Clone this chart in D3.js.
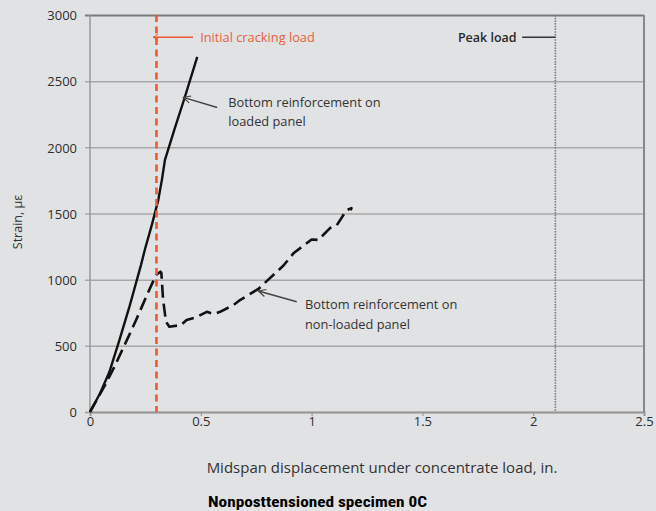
<!DOCTYPE html>
<html>
<head>
<meta charset="utf-8">
<script src="https://cdn.jsdelivr.net/npm/d3@7"></script>
<style>
  body { margin: 0; background: #e1e2e4; }
  svg { display: block; }
  .tick text { font-family: "Open Sans", sans-serif; font-size: 13px; fill: #2e2e2e; }
</style>
</head>
<body>
<div class="one"></div>
<script>
// x ticks / y ticks
let xTicks = [0, 0.5, 1, 1.5, 2, 2.5];
let yTicks = [0, 500, 1000, 1500, 2000, 2500, 3000];

// bottom reinforcement on loaded panel (solid)
let loadedX = [0, 0.045, 0.087, 0.132, 0.177, 0.23, 0.248, 0.28, 0.308, 0.325, 0.338, 0.38, 0.426, 0.484];
let loadedY = [0, 140, 300, 540, 790, 1110, 1230, 1420, 1601, 1760, 1903, 2130, 2369, 2684];

// bottom reinforcement on non-loaded panel (dashed)
let nonLoadedX = [0, 0.072, 0.11, 0.17, 0.208, 0.26, 0.298, 0.318, 0.322, 0.33, 0.343, 0.358, 0.41, 0.436, 0.48, 0.527, 0.556, 0.587, 0.647, 0.677, 0.76, 0.872, 0.918, 1.0, 1.03, 1.083, 1.113, 1.158, 1.18, 1.176];
let nonLoadedY = [0, 216, 342, 556, 695, 896, 1035, 1060, 1050, 846, 682, 644, 657, 695, 717, 757, 740, 757, 808, 846, 930, 1105, 1199, 1304, 1300, 1390, 1410, 1526, 1540, 1525];

let crackLoadX = 0.3;
let peakLoadX = 2.1;

let plot_chart = function() {
  let margin = {top: 15, left: 90, right: 12, bottom: 99};
  let W = 656, H = 511;
  let width = W - margin.left - margin.right,
      height = H - margin.top - margin.bottom;

  let xScale = d3.scaleLinear().domain([0, 2.5]).range([0, width]);
  let yScale = d3.scaleLinear().domain([0, 3000]).range([height, 0]);

  let svg = d3.select(".one").append("svg")
    .attr("width", W).attr("height", H);

  let defs = svg.append("defs");
  defs.append("marker").attr("id", "arrBlack")
    .attr("viewBox", "0 0 10 10").attr("refX", 9).attr("refY", 5)
    .attr("markerWidth", 9).attr("markerHeight", 9).attr("orient", "auto")
    .attr("markerUnits", "userSpaceOnUse")
    .append("path").attr("d", "M1,1 L9,5 L1,9")
    .attr("fill", "none").attr("stroke", "#444").attr("stroke-width", 1.3);
  defs.append("marker").attr("id", "arrRed")
    .attr("viewBox", "0 0 10 10").attr("refX", 9).attr("refY", 5)
    .attr("markerWidth", 7).attr("markerHeight", 7).attr("orient", "auto")
    .attr("markerUnits", "userSpaceOnUse")
    .append("path").attr("d", "M2,1 L9,5 L2,9")
    .attr("fill", "none").attr("stroke", "#e65a38").attr("stroke-width", 1.4);

  let g = svg.append("g")
    .attr("transform", "translate(" + margin.left + "," + margin.top + ")");

  // y axis with grid lines
  let yAxis = d3.axisLeft(yScale).tickValues(yTicks).tickSize(-width).tickPadding(13)
    .tickFormat(d3.format("d"));
  let ya = g.append("g").attr("class", "axis").call(yAxis);
  ya.select(".domain").remove();
  ya.selectAll(".tick line")
    .attr("x1", -5)
    .attr("stroke", d => d === 3000 ? "#7a7a7a" : (d === 0 ? "#999" : "#a8a8a8"))
    .attr("stroke-width", d => d === 3000 ? 2 : 1.5);
  ya.selectAll(".tick text").attr("dy", "0.36em");

  // x axis
  let xAxis = d3.axisBottom(xScale).tickValues(xTicks).tickSize(4).tickPadding(1)
    .tickFormat(d => String(d));
  let xa = g.append("g").attr("class", "axis")
    .attr("transform", "translate(0," + height + ")").call(xAxis);
  xa.select(".domain").attr("stroke", "#999").attr("stroke-width", 2);
  xa.selectAll(".tick line").attr("stroke", "#999").attr("stroke-width", 1.2);

  // left and right borders
  g.append("line").attr("x1", 0).attr("x2", 0).attr("y1", 0).attr("y2", height)
    .attr("stroke", "#999").attr("stroke-width", 1.5);
  g.append("line").attr("x1", width).attr("x2", width).attr("y1", 0).attr("y2", height)
    .attr("stroke", "#888").attr("stroke-width", 2);

  // peak load dotted line
  g.append("line")
    .attr("x1", xScale(peakLoadX)).attr("x2", xScale(peakLoadX))
    .attr("y1", 0).attr("y2", height)
    .attr("stroke", "#777").attr("stroke-width", 1.6)
    .attr("stroke-dasharray", "1.5,1.2");

  let line = d3.line()
    .x(d => xScale(d[0]))
    .y(d => yScale(d[1]));

  let nonLoaded = nonLoadedX.map((x, i) => [x, nonLoadedY[i]]);
  let loaded = loadedX.map((x, i) => [x, loadedY[i]]);

  g.append("path").datum(nonLoaded)
    .attr("d", line).attr("fill", "none")
    .attr("stroke", "#111").attr("stroke-width", 2.6)
    .attr("stroke-linejoin", "round")
    .attr("stroke-dasharray", "13,6");

  g.append("path").datum(loaded)
    .attr("d", line).attr("fill", "none")
    .attr("stroke", "#111").attr("stroke-width", 2.4)
    .attr("stroke-linejoin", "round");

  // initial cracking load dashed line
  g.append("line")
    .attr("x1", xScale(crackLoadX)).attr("x2", xScale(crackLoadX))
    .attr("y1", 0).attr("y2", height)
    .attr("stroke", "#e85b35").attr("stroke-width", 2.6)
    .attr("stroke-dasharray", "7,4.5");

  let annFont = "'Open Sans', sans-serif";

  // initial cracking load label
  g.append("line")
    .attr("x1", xScale(0.465)).attr("y1", yScale(2832))
    .attr("x2", xScale(0.285)).attr("y2", yScale(2832))
    .attr("stroke", "#e65a38").attr("stroke-width", 1.5)
    .attr("marker-end", "url(#arrRed)");
  g.append("text")
    .attr("x", xScale(0.497)).attr("y", yScale(2832)).attr("dy", "0.36em")
    .attr("font-family", annFont).attr("font-size", 12.8)
    .attr("fill", "#e8603c")
    .text("Initial cracking load");

  // peak load label
  g.append("line")
    .attr("x1", xScale(1.95)).attr("y1", yScale(2832))
    .attr("x2", xScale(peakLoadX)).attr("y2", yScale(2832))
    .attr("stroke", "#333").attr("stroke-width", 1.3);
  g.append("text")
    .attr("x", xScale(1.925)).attr("y", yScale(2832)).attr("dy", "0.36em")
    .attr("text-anchor", "end")
    .attr("font-family", annFont).attr("font-size", 12.5).attr("font-weight", 600)
    .attr("fill", "#2a2a2a")
    .text("Peak load");

  // loaded panel label
  g.append("line")
    .attr("x1", xScale(0.574)).attr("y1", yScale(2301))
    .attr("x2", xScale(0.421)).attr("y2", yScale(2377))
    .attr("stroke", "#444").attr("stroke-width", 1.4)
    .attr("marker-end", "url(#arrBlack)");
  let t1 = g.append("text")
    .attr("font-family", annFont).attr("font-size", 12.8).attr("fill", "#333");
  t1.append("tspan").attr("x", xScale(0.624)).attr("y", yScale(2336)).attr("dy", "0.36em")
    .text("Bottom reinforcement on");
  t1.append("tspan").attr("x", xScale(0.624)).attr("y", yScale(2193)).attr("dy", "0.36em")
    .text("loaded panel");

  // non-loaded panel label
  g.append("line")
    .attr("x1", xScale(0.933)).attr("y1", yScale(833))
    .attr("x2", xScale(0.760)).attr("y2", yScale(914))
    .attr("stroke", "#444").attr("stroke-width", 1.4)
    .attr("marker-end", "url(#arrBlack)");
  let t2 = g.append("text")
    .attr("font-family", annFont).attr("font-size", 12.8).attr("fill", "#333");
  t2.append("tspan").attr("x", xScale(0.970)).attr("y", yScale(816)).attr("dy", "0.36em")
    .text("Bottom reinforcement on");
  t2.append("tspan").attr("x", xScale(0.970)).attr("y", yScale(665)).attr("dy", "0.36em")
    .text("non-loaded panel");

  // axis titles
  svg.append("text")
    .attr("x", 382).attr("y", 468).attr("dy", "0.36em")
    .attr("text-anchor", "middle")
    .attr("font-family", annFont).attr("font-size", 15).attr("fill", "#333")
    .text("Midspan displacement under concentrate load, in.");

  svg.append("text")
    .attr("transform", "translate(17,222) rotate(-90)")
    .attr("dy", "0.36em")
    .attr("text-anchor", "middle")
    .attr("font-family", annFont).attr("font-size", 12.5).attr("fill", "#333")
    .text("Strain, με");

  // caption
  svg.append("text")
    .attr("x", 208).attr("y", 507)
    .attr("font-family", "'Liberation Sans Narrow', 'Roboto Condensed', Roboto, sans-serif")
    .attr("font-weight", "bold").attr("font-size", 15.5).attr("fill", "#000")
    .attr("textLength", 219).attr("lengthAdjust", "spacingAndGlyphs")
    .text("Nonposttensioned specimen 0C");
};

plot_chart();
</script>
</body>
</html>
